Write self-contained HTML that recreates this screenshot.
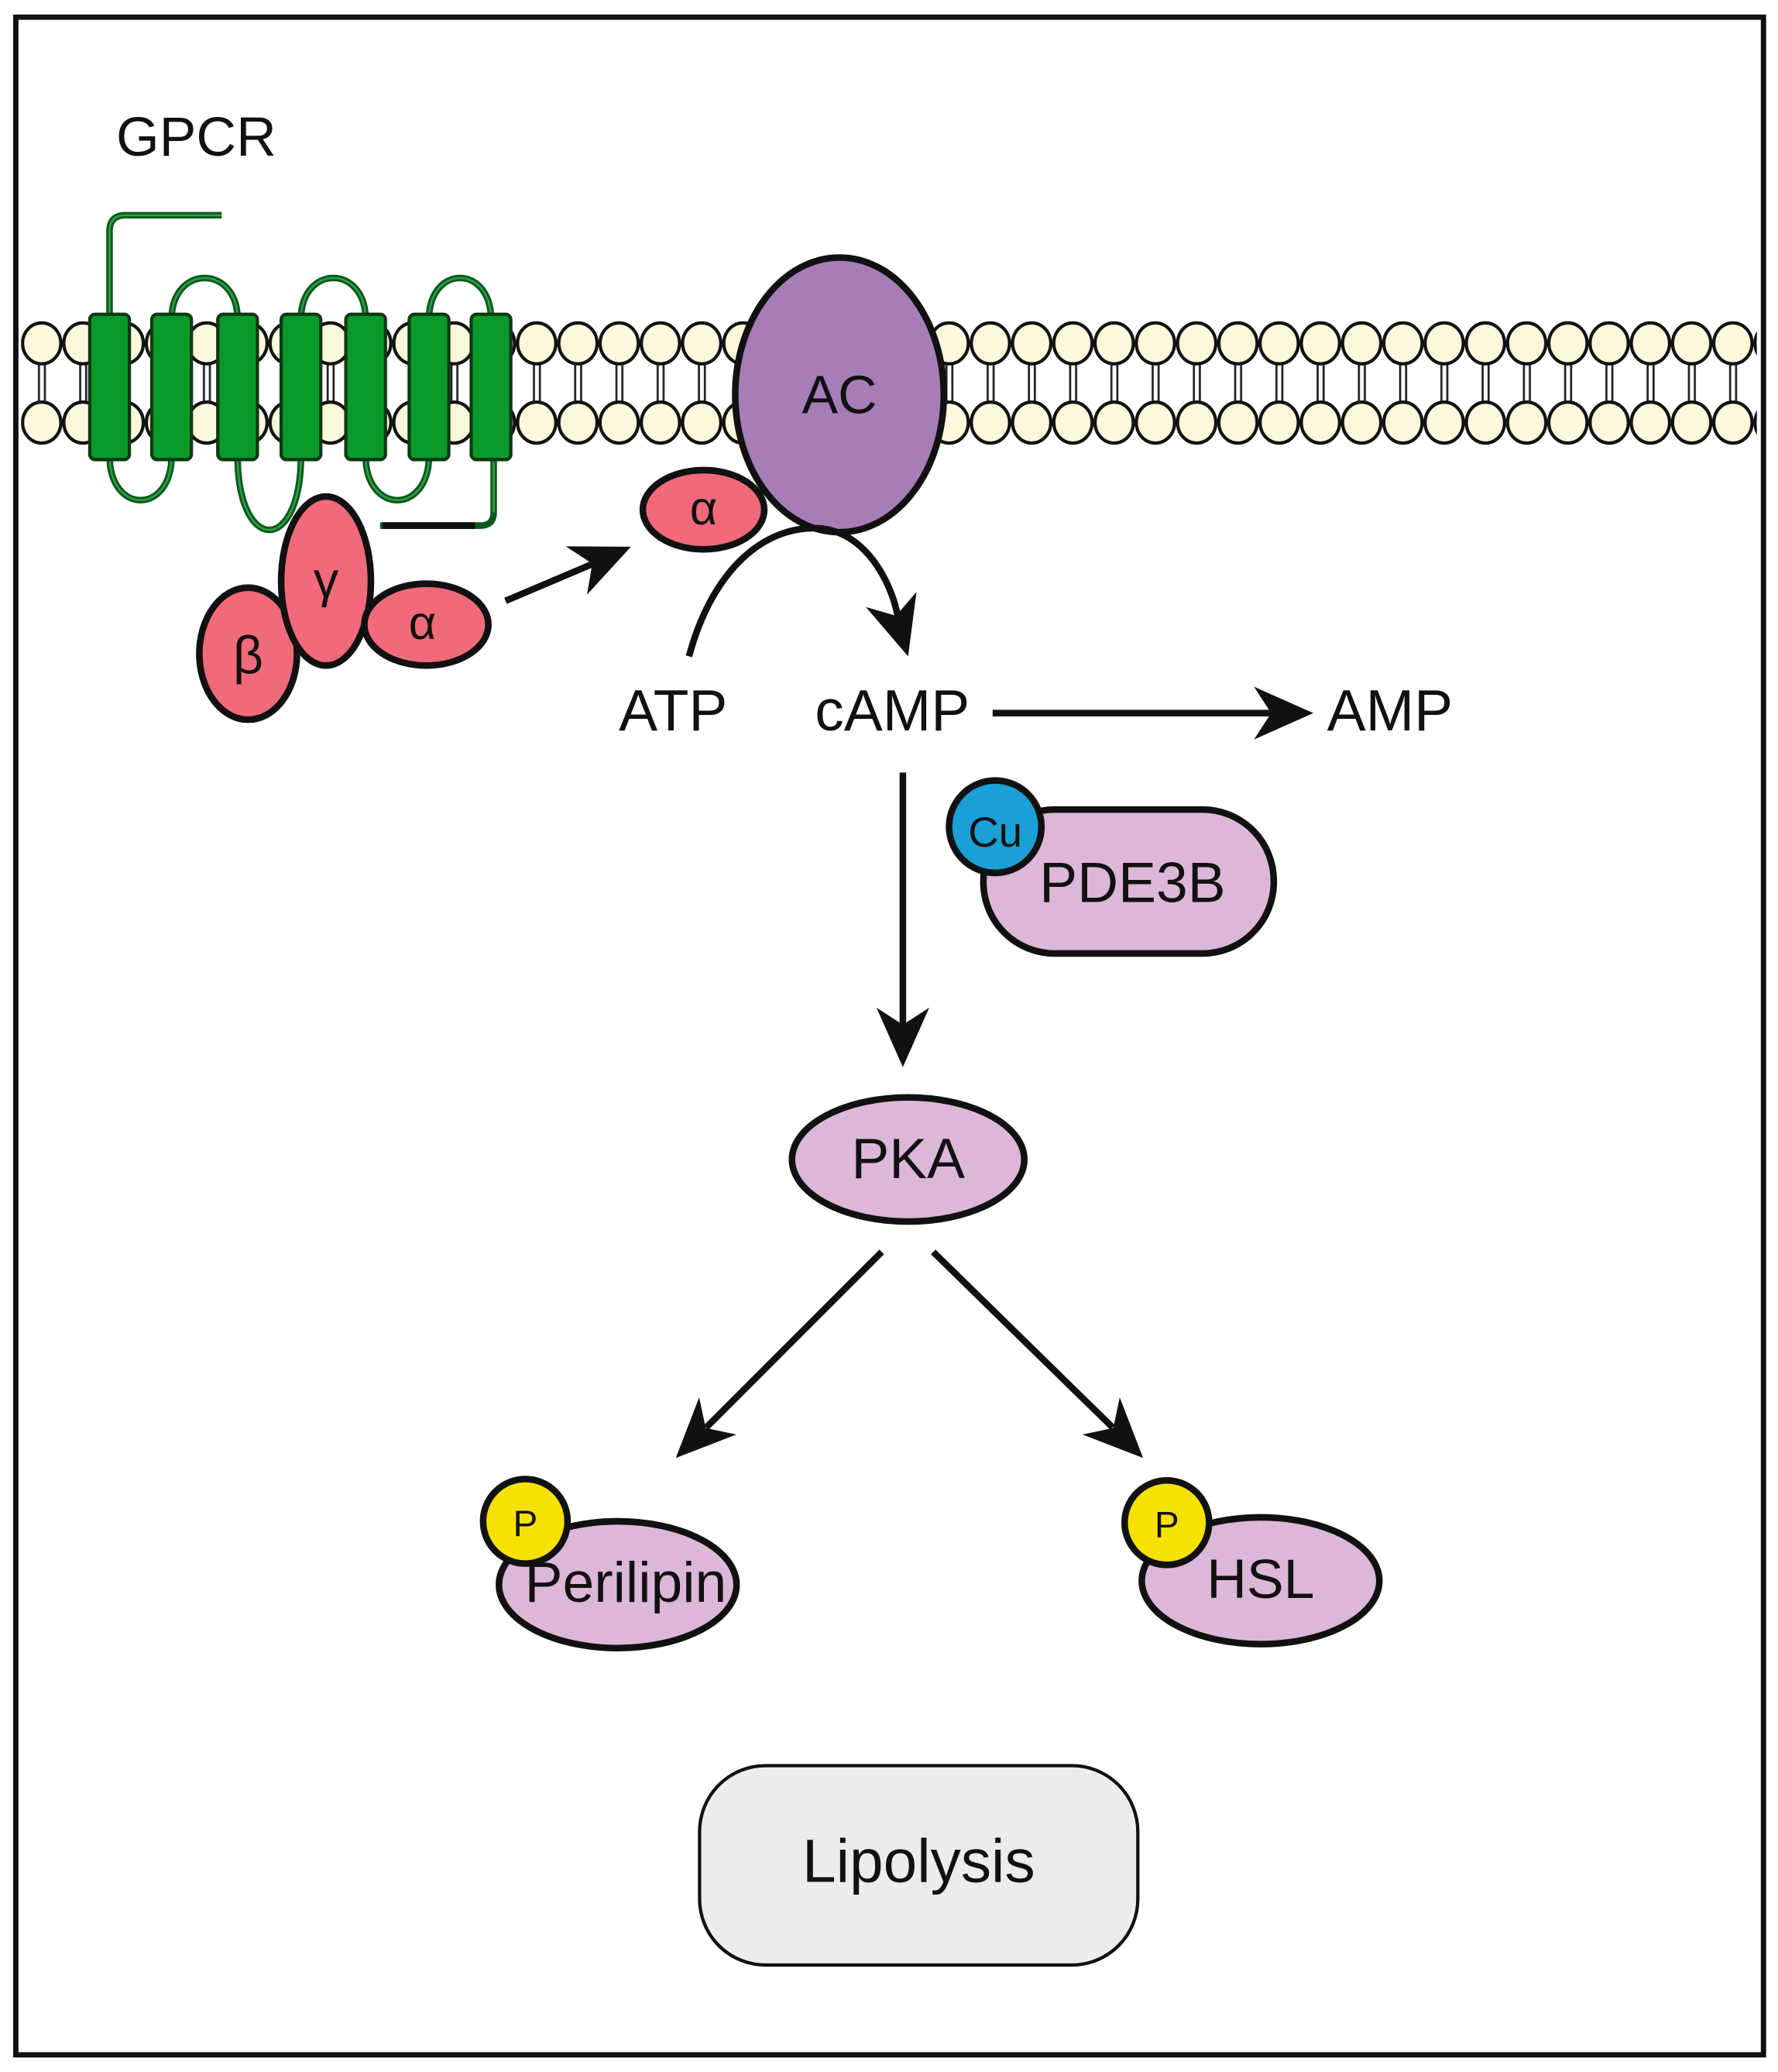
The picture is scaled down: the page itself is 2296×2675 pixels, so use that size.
<!DOCTYPE html>
<html><head><meta charset="utf-8"><style>
html,body{margin:0;padding:0;background:#fff}
svg{display:block}
text{font-family:"Liberation Sans",sans-serif;fill:#111}
</style></head><body>
<svg width="2296" height="2675" viewBox="0 0 1347 1569" preserveAspectRatio="none" xmlns="http://www.w3.org/2000/svg">
<defs>
<pattern id="lip" patternUnits="userSpaceOnUse" x="16" y="0" width="31.25" height="1569">
<line x1="13.5" y1="272" x2="13.5" y2="308" stroke="#222" stroke-width="1.6"/>
<line x1="18" y1="272" x2="18" y2="308" stroke="#222" stroke-width="1.6"/>
<ellipse cx="15.6" cy="260" rx="14.5" ry="15.5" fill="#fbf8dc" stroke="#111" stroke-width="2.5"/>
<ellipse cx="15.6" cy="320" rx="14.5" ry="15.5" fill="#fbf8dc" stroke="#111" stroke-width="2.5"/>
</pattern>
</defs>
<rect x="0" y="0" width="1347" height="1569" fill="#fff"/>
<rect x="12" y="13" width="1324" height="1543" fill="none" stroke="#111" stroke-width="4"/>
<text x="88" y="118" font-size="42">GPCR</text>
<rect x="16" y="238" width="1315" height="100" fill="url(#lip)"/>
<g fill="none" stroke="#0b5a1d" stroke-width="5">
<path d="M83,255 L83,175 Q83,163 95,163 L168,163"/>
<path d="M130,242 C130,200 180,200 180,242"/>
<path d="M228,242 C228,200 277,200 277,242"/>
<path d="M325,242 C325,200 372,200 372,242"/>
<path d="M83,345 C83,390 130,390 130,345"/>
<path d="M180,345 C180,420 228,420 228,345"/>
<path d="M277,345 C277,390 325,390 325,345"/>
<path d="M374,345 L374,388 Q374,398 364,398 L288,398"/>
</g>
<g fill="none" stroke="#2fa043" stroke-width="1.5">
<path d="M83,255 L83,175 Q83,163 95,163 L168,163"/>
<path d="M130,242 C130,200 180,200 180,242"/>
<path d="M228,242 C228,200 277,200 277,242"/>
<path d="M325,242 C325,200 372,200 372,242"/>
<path d="M83,345 C83,390 130,390 130,345"/>
<path d="M180,345 C180,420 228,420 228,345"/>
<path d="M277,345 C277,390 325,390 325,345"/>
<path d="M374,345 L374,388"/>
</g>
<line x1="290" y1="398" x2="360" y2="398" stroke="#111" stroke-width="5"/>
<g fill="#0a9a2a" stroke="#0a3a12" stroke-width="2.5">
<rect x="68" y="238" width="30" height="110" rx="4"/>
<rect x="115" y="238" width="30" height="110" rx="4"/>
<rect x="165" y="238" width="30" height="110" rx="4"/>
<rect x="213" y="238" width="30" height="110" rx="4"/>
<rect x="262" y="238" width="30" height="110" rx="4"/>
<rect x="310" y="238" width="30" height="110" rx="4"/>
<rect x="357" y="238" width="30" height="110" rx="4"/>
</g>
<ellipse cx="636" cy="299" rx="79" ry="104" fill="#a77db8" stroke="#111" stroke-width="5"/>
<text x="636" y="313" font-size="41" text-anchor="middle">AC</text>
<g fill="#f06a7a" stroke="#111" stroke-width="5">
<ellipse cx="533" cy="386" rx="46" ry="30"/>
<ellipse cx="188" cy="495" rx="37" ry="50"/>
<ellipse cx="247" cy="440" rx="34" ry="64"/>
<ellipse cx="323" cy="473" rx="47" ry="31"/>
</g>
<text x="533" y="397" font-size="36" text-anchor="middle">α</text>
<text x="188" y="510" font-size="40" text-anchor="middle">β</text>
<text x="247" y="452" font-size="38" text-anchor="middle">γ</text>
<text x="320" y="484" font-size="36" text-anchor="middle">α</text>
<g stroke="#111" stroke-width="5" fill="none">
<line x1="383" y1="455" x2="449" y2="427"/>
<path d="M522,497 C540,430 580,398 620,400 C655,402 675,440 680,466"/>
<line x1="752" y1="540" x2="963" y2="540"/>
<line x1="684" y1="585" x2="684" y2="776"/>
<line x1="668" y1="948" x2="535" y2="1081"/>
<line x1="707" y1="948" x2="843" y2="1081"/>
</g>
<g fill="#111">
<polygon points="478,414 444.7,450.3 448.7,426.8 428.7,413.7"/>
<polygon points="688,497 694.3,448.2 678.8,466.3 655.9,459.6"/>
<polygon points="995,540 950,520 963,540 950,560"/>
<polygon points="684,808 664,763 684,776 704,763"/>
<polygon points="512,1104 557.9,1086.3 534.6,1081.4 529.7,1058.1"/>
<polygon points="866,1104 820.1,1086.3 843.4,1081.4 848.3,1058.1"/>
</g>
<text x="510" y="553" font-size="44" text-anchor="middle">ATP</text>
<text x="676" y="553" font-size="44" text-anchor="middle">cAMP</text>
<text x="1053" y="553" font-size="44" text-anchor="middle">AMP</text>
<rect x="745" y="613" width="220" height="109" rx="54" fill="#ddb7d8" stroke="#111" stroke-width="5"/>
<circle cx="754" cy="626" r="35" fill="#1aa0d6" stroke="#111" stroke-width="5"/>
<text x="754" y="641" font-size="32" text-anchor="middle">Cu</text>
<text x="858" y="683" font-size="43" text-anchor="middle">PDE3B</text>
<ellipse cx="688" cy="878" rx="88" ry="47" fill="#ddb7d8" stroke="#111" stroke-width="5"/>
<text x="688" y="892" font-size="43" text-anchor="middle">PKA</text>
<ellipse cx="468" cy="1200" rx="90" ry="48" fill="#ddb7d8" stroke="#111" stroke-width="5"/>
<circle cx="398" cy="1152" r="32" fill="#f6e200" stroke="#111" stroke-width="5"/>
<text x="398" y="1163" font-size="28" text-anchor="middle">P</text>
<text x="474" y="1213" font-size="43" text-anchor="middle">Perilipin</text>
<ellipse cx="955" cy="1197" rx="90" ry="48" fill="#ddb7d8" stroke="#111" stroke-width="5"/>
<circle cx="884" cy="1153" r="32" fill="#f6e200" stroke="#111" stroke-width="5"/>
<text x="884" y="1164" font-size="28" text-anchor="middle">P</text>
<text x="955" y="1210" font-size="42" text-anchor="middle">HSL</text>
<rect x="530" y="1337" width="332" height="151" rx="50" fill="#ececec" stroke="#111" stroke-width="2.5"/>
<text x="696" y="1425" font-size="46" text-anchor="middle">Lipolysis</text>
</svg>
</body></html>
